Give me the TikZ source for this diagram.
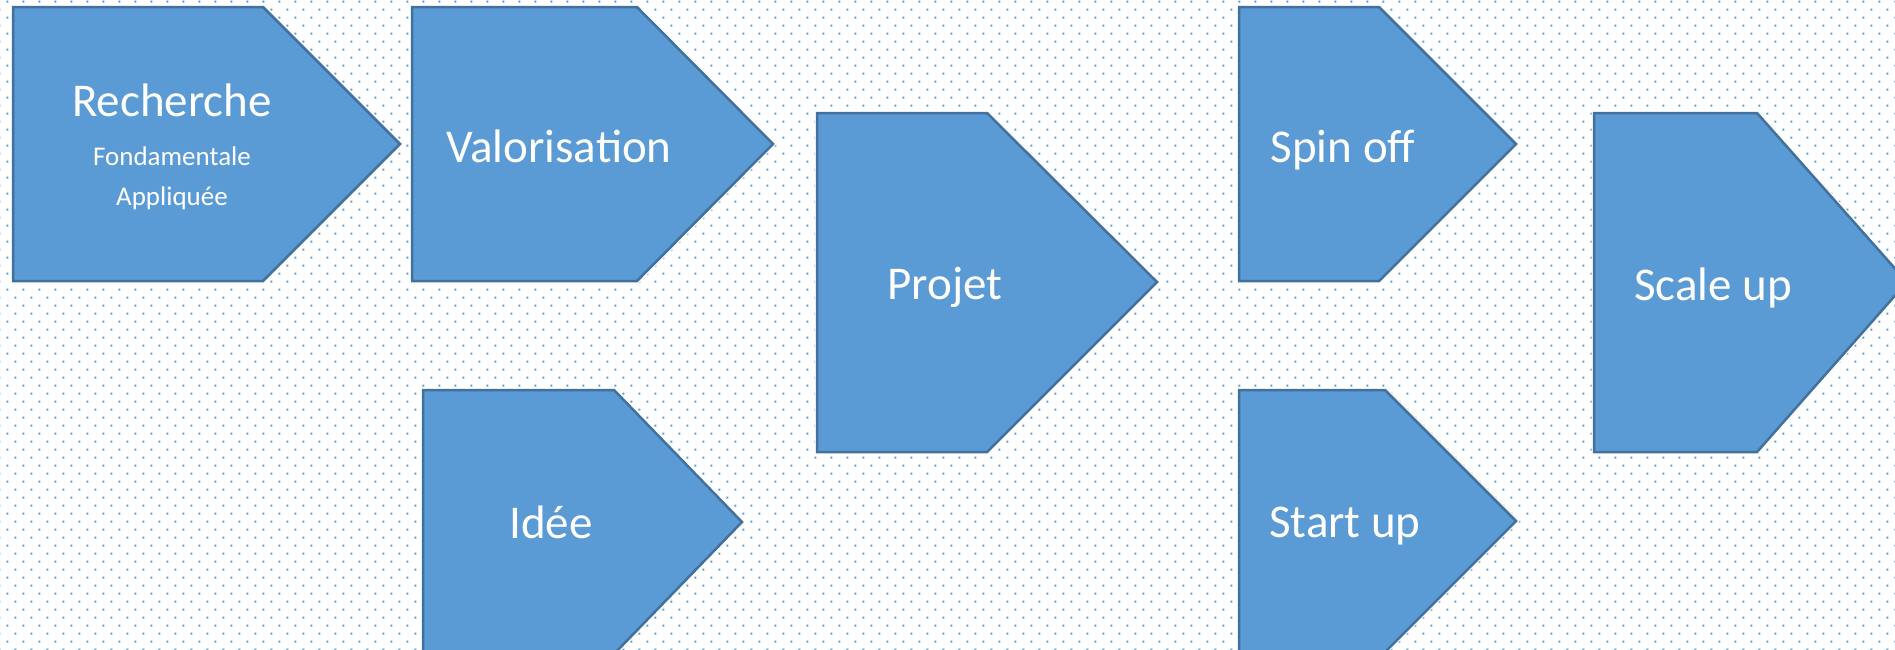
\documentclass[tikz,border=0pt]{standalone}
\usepackage{fontspec}
\setmainfont{Carlito}
\definecolor{fillblue}{HTML}{5B9BD5}
\definecolor{edgeblue}{HTML}{41719C}
\definecolor{dotblue}{HTML}{5B9BD5}
\tikzset{
  arrowshape/.style={fill=fillblue, draw=edgeblue, line width=2.5pt, line join=miter},
  halo/.style={draw=white, line width=5pt},
  bigtext/.style={text=white, inner sep=0pt, anchor=base, font=\fontsize{47}{56}\selectfont},
  smalltext/.style={text=white, inner sep=0pt, anchor=base, font=\fontsize{27}{32}\selectfont}
}
\begin{document}
\begin{tikzpicture}[x=1pt,y=-1pt]
\useasboundingbox (0,0) rectangle (1895,649);
\clip (0,0) rectangle (1895,649);
% dotted background
\foreach \k in {0,...,81} {
  \pgfmathsetmacro{\xoff}{isodd(\k) ? -1.7 : 6.3}
  \fill[dotblue] \foreach \j in {0,...,118} { ({\xoff+16*\j},{0.7+8*\k}) rectangle ++(2,2) };
}
% shapes
\foreach \L/\T/\S/\X/\Y/\B/\nm in {
  13/7/263/400/144/281/recherche,
  412/7/637/773/144/281/valorisation,
  817/113/987/1157/282/452/projet,
  423/390/614/742/522/654/idee,
  1239/7/1379/1516/144/281/spinoff,
  1239/390/1385/1516/521/652/startup,
  1594/113/1757/1907/282/452/scaleup} {
  \path[halo] (\L,\T) -- (\S,\T) -- (\X,\Y) -- (\S,\B) -- (\L,\B) -- cycle;
  \path[arrowshape] (\L,\T) -- (\S,\T) -- (\X,\Y) -- (\S,\B) -- (\L,\B) -- cycle;
  \coordinate (\nm-tip) at (\X,\Y);
}
% texts
\node[bigtext] (t-recherche) at (172,116) {Recherche};
\node[smalltext] (t-fond) at (172,165) {Fondamentale};
\node[smalltext] (t-appl) at (172,205) {Appliquée};
\node[bigtext] (t-valorisation) at (559,162) {Valorisation};
\node[bigtext] (t-projet) at (945,299) {Projet};
\node[bigtext] (t-idee) at (551,538) {Idée};
\node[bigtext] (t-spinoff) at (1343,162) {Spin off};
\node[bigtext] (t-startup) at (1345,537) {Start up};
\node[bigtext] (t-scaleup) at (1713,300) {Scale up};
\end{tikzpicture}
\end{document}
